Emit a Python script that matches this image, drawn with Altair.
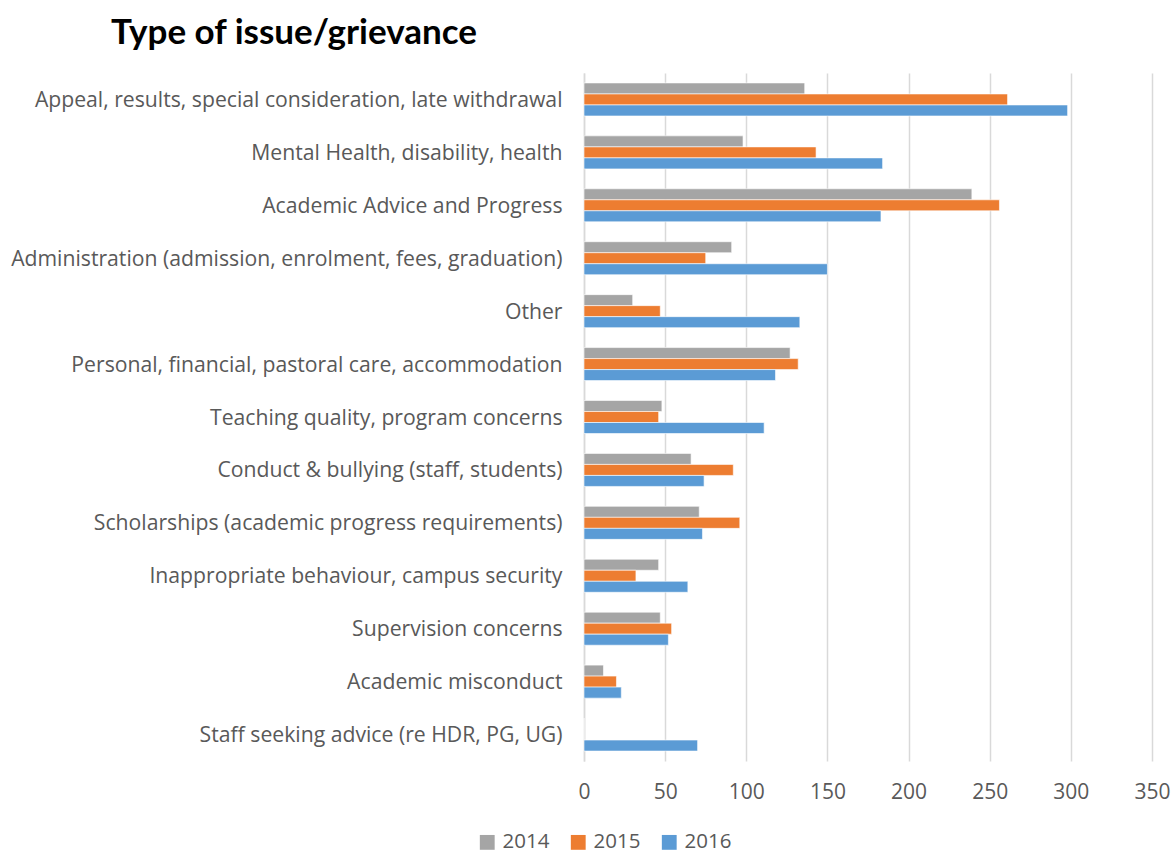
import altair as alt
import pandas as pd

categories = [
    "Appeal, results, special consideration, late withdrawal",
    "Mental Health, disability, health",
    "Academic Advice and Progress",
    "Administration (admission, enrolment, fees, graduation)",
    "Other",
    "Personal, financial, pastoral care, accommodation",
    "Teaching quality, program concerns",
    "Conduct & bullying (staff, students)",
    "Scholarships (academic progress requirements)",
    "Inappropriate behaviour, campus security",
    "Supervision concerns",
    "Academic misconduct",
    "Staff seeking advice (re HDR, PG, UG)",
]
years = ["2014", "2015", "2016"]
values_2014 = [136, 98, 239, 91, 30, 127, 48, 66, 71, 46, 47, 12, 0]
values_2015 = [261, 143, 256, 75, 47, 132, 46, 92, 96, 32, 54, 20, 0]
values_2016 = [298, 184, 183, 150, 133, 118, 111, 74, 73, 64, 52, 23, 70]
colors = ["#A5A5A5", "#ED7D31", "#5B9BD5"]
x_ticks = [0, 50, 100, 150, 200, 250, 300, 350]

rows = []
for year, vals in zip(years, [values_2014, values_2015, values_2016]):
    for cat, v in zip(categories, vals):
        rows.append({"Category": cat, "Year": year, "Count": v})
df = pd.DataFrame(rows)

FONT = "Open Sans"
TITLE_FONT = "Lato"
TEXT = "#595959"
GRID = "#D9D9D9"

chart = (
    alt.Chart(df)
    .mark_bar(stroke="white", strokeWidth=0.6)
    .encode(
        y=alt.Y(
            "Category:N",
            sort=categories,
            scale=alt.Scale(paddingInner=0.376, paddingOuter=0.188),
            axis=alt.Axis(
                title=None,
                ticks=False,
                domain=True,
                domainColor=GRID,
                domainWidth=1.5,
                labelFont=FONT,
                labelFontSize=21.2,
                labelColor=TEXT,
                labelPadding=22,
                labelOffset=1.5,
                labelLimit=600,
            ),
        ),
        yOffset=alt.YOffset("Year:N", sort=years),
        x=alt.X(
            "Count:Q",
            scale=alt.Scale(domain=[0, 350], nice=False),
            axis=alt.Axis(
                title=None,
                values=x_ticks,
                grid=True,
                gridColor=GRID,
                gridWidth=1.5,
                domain=False,
                ticks=False,
                labelFlush=False,
                labelFont=FONT,
                labelFontSize=21,
                labelColor=TEXT,
                labelPadding=20,
            ),
        ),
        color=alt.Color(
            "Year:N",
            scale=alt.Scale(domain=years, range=colors),
            legend=alt.Legend(
                title=None,
                orient="none",
                direction="horizontal",
                legendX=-107,
                legendY=759,
                symbolType="square",
                symbolSize=220,
                symbolStrokeWidth=0,
                labelFont=FONT,
                labelFontSize=20.5,
                labelColor=TEXT,
                labelOffset=5,
                columnPadding=18,
            ),
        ),
    )
    .properties(
        width=568,
        height=688,
        padding={"left": 584, "top": 73, "right": 21, "bottom": 91},
        autosize=alt.AutoSizeParams(type="none"),
        title=alt.TitleParams(
            "Type of issue/grievance",
            anchor="start",
            frame="group",
            dx=-473,
            offset=22,
            font=TITLE_FONT,
            fontSize=35,
            fontWeight="bold",
            color="black",
        ),
    )
    .configure_view(stroke=None)
)

chart.save("out.html", embed_options={"renderer": "svg", "actions": False})
